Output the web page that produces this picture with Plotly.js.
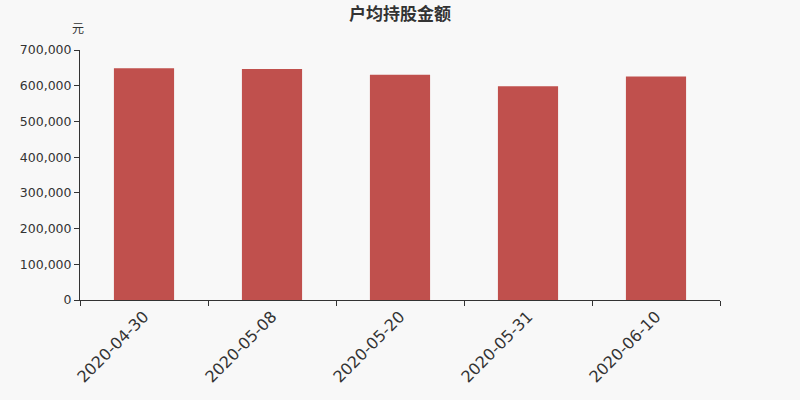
<!DOCTYPE html>
<html>
<head>
<meta charset="utf-8">
<script src="https://cdn.plot.ly/plotly-3.0.1.min.js"></script>
<style>
  html, body { margin: 0; padding: 0; background: #f8f8f8; }
  #chart { width: 800px; height: 400px; }
</style>
</head>
<body>
<div id="chart"></div>
<script>
var dates = ['2020-04-30', '2020-05-08', '2020-05-20', '2020-05-31', '2020-06-10'];
var amounts = [649000, 646500, 630500, 598800, 626000];
var yTicks = [0, 100000, 200000, 300000, 400000, 500000, 600000, 700000];

var trace = {
  x: dates,
  y: amounts,
  type: 'bar',
  marker: { color: '#c0504d' },
  hoverinfo: 'x+y'
};

var layout = {
  width: 800,
  height: 400,
  margin: { l: 80, r: 80, t: 50, b: 100 },
  paper_bgcolor: '#f8f8f8',
  plot_bgcolor: '#f8f8f8',
  bargap: 0.53,
  showlegend: false,
  font: { family: 'DejaVu Sans, sans-serif', color: '#333' },
  title: {
    text: '户均持股金额',
    x: 0.5,
    y: 0.98,
    yanchor: 'top',
    font: { family: 'Noto Sans CJK SC, sans-serif', size: 17, color: '#333', weight: 'bold' }
  },
  xaxis: {
    type: 'category',
    showline: true,
    linecolor: '#333',
    linewidth: 1,
    ticks: 'outside',
    tickson: 'boundaries',
    ticklen: 5,
    tickcolor: '#333',
    tickangle: -45,
    tickfont: { size: 16, color: '#333' },
    showgrid: false,
    zeroline: false
  },
  yaxis: {
    range: [0, 700000],
    tickvals: yTicks,
    ticktext: yTicks.map(function (v) { return v.toLocaleString('en-US'); }),
    showline: true,
    linecolor: '#333',
    linewidth: 1,
    ticks: 'outside',
    ticklen: 5,
    tickcolor: '#333',
    tickfont: { size: 12.5, color: '#333' },
    showgrid: false,
    zeroline: false
  },
  annotations: [{
    text: '元',
    xref: 'paper',
    yref: 'paper',
    x: -0.003,
    y: 1.088,
    xanchor: 'center',
    yanchor: 'middle',
    showarrow: false,
    font: { family: 'Noto Sans CJK SC, sans-serif', size: 12, color: '#333' }
  }]
};

Plotly.newPlot('chart', [trace], layout, { displayModeBar: false, staticPlot: true });
</script>
</body>
</html>
